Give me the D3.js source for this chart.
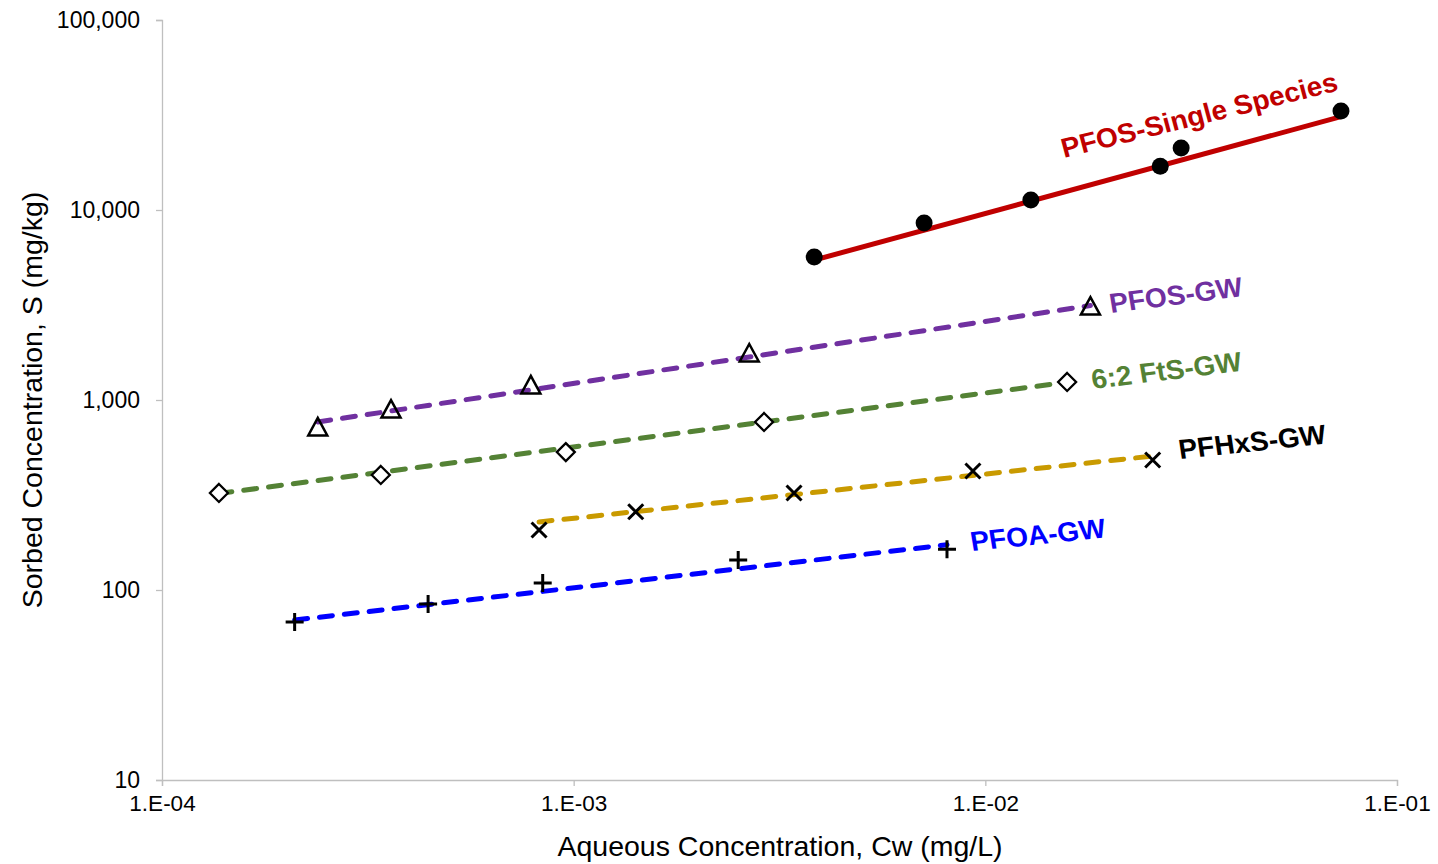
<!DOCTYPE html>
<html>
<head>
<meta charset="utf-8">
<script src="https://cdn.jsdelivr.net/npm/d3@7"></script>
<style>
  html, body { margin: 0; padding: 0; background: #fff; }
  svg { display: block; font-family: "Liberation Sans", Arial, sans-serif; }
</style>
</head>
<body>
<svg id="chart" width="1438" height="864"></svg>
<script>
// ---- Data ----
const xTickValues = [1e-4, 1e-3, 1e-2, 1e-1];
const xTickLabels = ["1.E-04", "1.E-03", "1.E-02", "1.E-01"];
const yTickValues = [10, 100, 1000, 10000, 100000];
const yTickLabels = ["10", "100", "1,000", "10,000", "100,000"];

const seriesNames = ["PFOS-Single Species", "PFOS-GW", "6:2 FtS-GW", "PFHxS-GW", "PFOA-GW"];

const pfosSingleCw = [0.00384, 0.0071, 0.0129, 0.0266, 0.0299, 0.0731];
const pfosSingleS  = [5660, 8550, 11300, 17000, 21200, 33200];
const pfosSingleTrendCw = [0.00384, 0.0731];
const pfosSingleTrendS  = [5450, 31000];

const pfosGwCw = [0.000239, 0.00036, 0.000787, 0.00267, 0.018];
const pfosGwS  = [713, 885, 1186, 1746, 3085];
const pfosGwTrendCw = [0.000239, 0.018];
const pfosGwTrendS  = [766, 3140];

const ftsGwCw = [0.0001375, 0.00034, 0.000957, 0.0029, 0.0158];
const ftsGwS  = [324, 403, 532, 766, 1244];
const ftsGwTrendCw = [0.0001375, 0.0158];
const ftsGwTrendS  = [322, 1240];

const pfhxsGwCw = [0.000824, 0.001415, 0.00343, 0.00933, 0.0255];
const pfhxsGwS  = [207, 258, 324, 423, 483];
const pfhxsGwTrendCw = [0.000824, 0.0255];
const pfhxsGwTrendS  = [228, 507];

const pfoaGwCw = [0.00021, 0.000443, 0.000841, 0.00251, 0.00807];
const pfoaGwS  = [67.9, 84.4, 109, 144, 164];
const pfoaGwTrendCw = [0.00021, 0.00807];
const pfoaGwTrendS  = [69.5, 173];

// ---- Chart ----
const svg = d3.select("#chart");
const x = d3.scaleLog().domain([1e-4, 1e-1]).range([162, 1397]);
const y = d3.scaleLog().domain([10, 1e5]).range([780, 20]);
const axisColor = "#BFBFBF";
const font = "'Liberation Sans', Arial, sans-serif";

// Y axis
const yAxis = d3.axisLeft(y).tickValues(yTickValues)
  .tickFormat((d, i) => yTickLabels[i]).tickSize(6).tickPadding(16);
const gy = svg.append("g").attr("transform", "translate(162,0)").call(yAxis);
gy.select(".domain").attr("stroke", axisColor).attr("stroke-width", 1.3);
gy.selectAll(".tick line").attr("stroke", axisColor).attr("stroke-width", 1.3);
gy.selectAll(".tick text").attr("fill", "#000").style("font-size", "23px")
  .style("font-family", font);

// X axis
const xAxis = d3.axisBottom(x).tickValues(xTickValues)
  .tickFormat((d, i) => xTickLabels[i]).tickSize(6).tickPadding(9);
const gx = svg.append("g").attr("transform", "translate(0,780)").call(xAxis);
gx.select(".domain").attr("stroke", axisColor).attr("stroke-width", 1.3);
gx.selectAll(".tick line").attr("stroke", axisColor).attr("stroke-width", 1.3);
gx.selectAll(".tick text").attr("fill", "#000").style("font-size", "22.5px")
  .style("font-family", font);

// Axis titles
svg.append("text").attr("x", 780).attr("y", 856).attr("text-anchor", "middle")
  .style("font-size", "28.5px").style("font-family", font)
  .text("Aqueous Concentration, Cw (mg/L)");
svg.append("text").attr("transform", "translate(42,400) rotate(-90)")
  .attr("text-anchor", "middle").style("font-size", "28.5px").style("font-family", font)
  .text("Sorbed Concentration, S (mg/kg)");

const line = d3.line().x(d => x(d[0])).y(d => y(d[1]));
const zip = (a, b) => a.map((v, i) => [v, b[i]]);

// Trend lines
const trends = [
  { cw: pfosSingleTrendCw, s: pfosSingleTrendS, color: "#C00000", dash: null },
  { cw: pfosGwTrendCw, s: pfosGwTrendS, color: "#7030A0", dash: "13,12" },
  { cw: ftsGwTrendCw, s: ftsGwTrendS, color: "#548235", dash: "13,12" },
  { cw: pfhxsGwTrendCw, s: pfhxsGwTrendS, color: "#C99A00", dash: "13,12" },
  { cw: pfoaGwTrendCw, s: pfoaGwTrendS, color: "#0000FF", dash: "13,12" }
];
trends.forEach(t => {
  svg.append("path").datum(zip(t.cw, t.s)).attr("d", line)
    .attr("fill", "none").attr("stroke", t.color).attr("stroke-width", 5)
    .attr("stroke-linecap", t.dash ? "round" : "butt")
    .attr("stroke-dasharray", t.dash);
});

// Markers
svg.append("g").selectAll("circle").data(zip(pfosSingleCw, pfosSingleS)).join("circle")
  .attr("cx", d => x(d[0])).attr("cy", d => y(d[1])).attr("r", 8.5).attr("fill", "#000");

svg.append("g").selectAll("path").data(zip(pfosGwCw, pfosGwS)).join("path")
  .attr("transform", d => `translate(${x(d[0])},${y(d[1])})`)
  .attr("d", "M0,-10 L9.5,7.5 L-9.5,7.5 Z")
  .attr("fill", "none").attr("stroke", "#000").attr("stroke-width", 2.5);

svg.append("g").selectAll("path").data(zip(ftsGwCw, ftsGwS)).join("path")
  .attr("transform", d => `translate(${x(d[0])},${y(d[1])})`)
  .attr("d", "M0,-9 L9,0 L0,9 L-9,0 Z")
  .attr("fill", "#fff").attr("stroke", "#000").attr("stroke-width", 2.3);

svg.append("g").selectAll("path").data(zip(pfhxsGwCw, pfhxsGwS)).join("path")
  .attr("transform", d => `translate(${x(d[0])},${y(d[1])})`)
  .attr("d", "M-7.5,-7.5 L7.5,7.5 M-7.5,7.5 L7.5,-7.5")
  .attr("fill", "none").attr("stroke", "#000").attr("stroke-width", 3);

svg.append("g").selectAll("path").data(zip(pfoaGwCw, pfoaGwS)).join("path")
  .attr("transform", d => `translate(${x(d[0])},${y(d[1])})`)
  .attr("d", "M-9,0 L9,0 M0,-9 L0,9")
  .attr("fill", "none").attr("stroke", "#000").attr("stroke-width", 3);

// Series labels: baseline slope (a) and letter lean (b) differ in the reference
const labels = [
  { text: seriesNames[0], px: 1064, py: 158, a: 13.8, b: 15, color: "#C00000" },
  { text: seriesNames[1], px: 1111, py: 313, a: 7.3, b: 9.5, color: "#7030A0" },
  { text: seriesNames[2], px: 1093, py: 389, a: 7.0, b: 9.5, color: "#548235" },
  { text: seriesNames[3], px: 1180, py: 459, a: 6.0, b: 8.5, color: "#000000" },
  { text: seriesNames[4], px: 972, py: 551, a: 5.8, b: 9.5, color: "#0000FF" }
];
const rad = Math.PI / 180, sx = 1.02;
labels.forEach(l => {
  const m = [sx * Math.cos(l.a * rad), -sx * Math.sin(l.a * rad),
             Math.sin(l.b * rad), Math.cos(l.b * rad), l.px, l.py];
  svg.append("text").attr("transform", `matrix(${m.join(",")})`)
    .attr("fill", l.color).style("font-weight", "bold").style("font-size", "27.5px")
    .style("font-family", font).text(l.text);
});
</script>
</body>
</html>
